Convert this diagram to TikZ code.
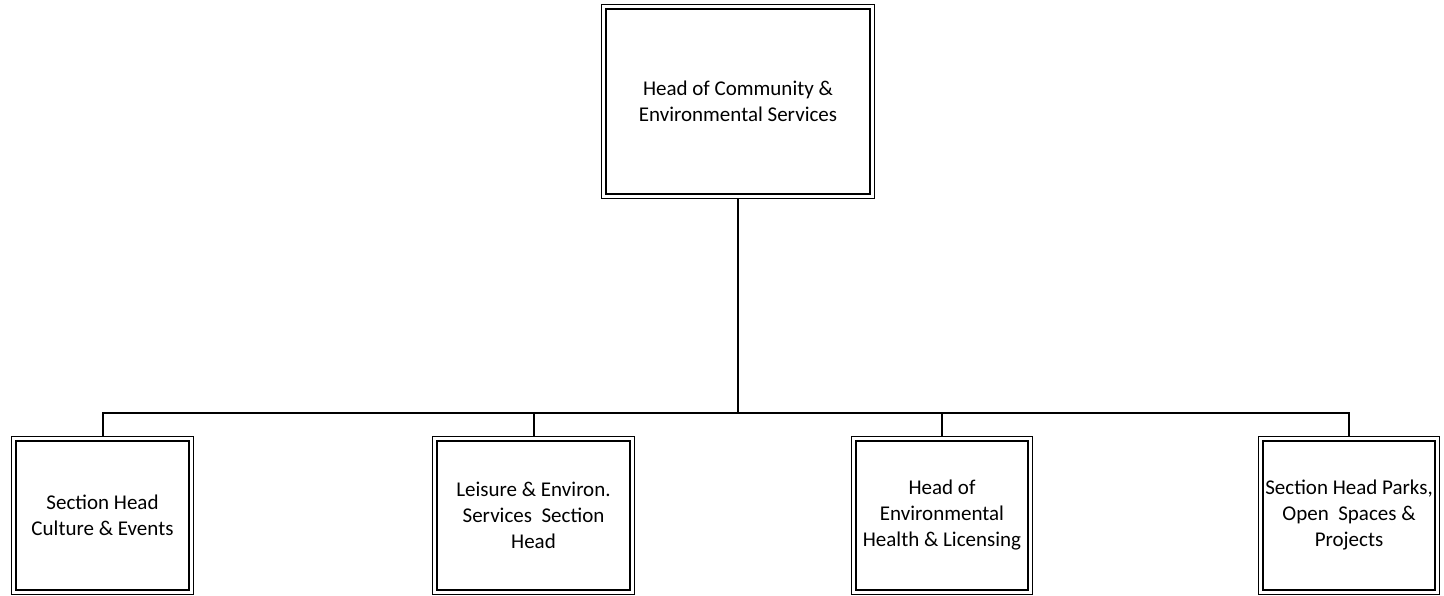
\documentclass[tikz,border=0pt]{standalone}
\usepackage{fontspec}
\setmainfont{Carlito}
\usetikzlibrary{fit}

\begin{document}
\begin{tikzpicture}[x=0.5pt,y=0.5pt,
  post/.style={draw,line width=1pt,align=center,inner sep=1pt,
    minimum height=74.5pt,font=\fontsize{10.5}{13}\selectfont},
  frame/.style={draw,line width=0.6pt,inner sep=1.75pt},
  link/.style={line width=1pt}]
\useasboundingbox (0,0) rectangle (1444,595);

% head of department
\node[post,minimum width=132pt,minimum height=92.5pt] (head) at (738,493.5)
  {Head of Community \&\\Environmental Services};

% section heads
\node[post,minimum width=86.5pt] (culture) at (102.5,79.5) {Section Head\\Culture \& Events};
\node[post,minimum width=96.5pt] (leisure) at (533.5,79.5) {Leisure \& Environ.\\Services\ \ Section\\Head};
\node[post,minimum width=86pt] (health) at (942,79.5) {Head of\\Environmental\\Health \& Licensing};
\node[post,minimum width=85pt] (parks) at (1349,79.5) {Section Head Parks,\\Open\ \ Spaces \&\\Projects};

% outer lines of the double frames
\foreach \n in {head,culture,leisure,health,parks}
  \node[frame,fit=(\n)] (\n F) {};

\coordinate (bus) at (738,182);
\draw[link] (headF.south) -- (bus);
\foreach \n in {culture,leisure,health,parks}
  \draw[link] (bus) -| (\n F.north);

\end{tikzpicture}
\end{document}
